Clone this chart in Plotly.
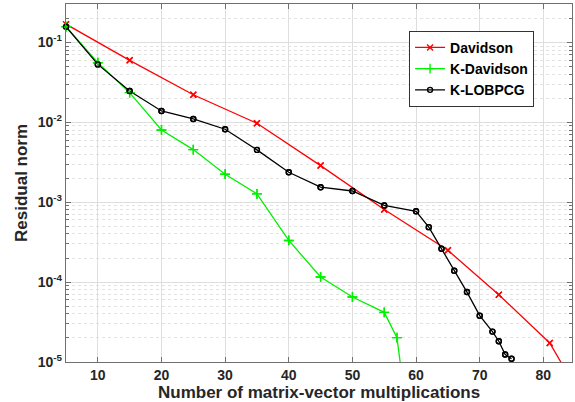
import plotly.graph_objects as go

# ---- data ----
dav_x = [5, 15, 25, 35, 45, 55, 65, 73, 81, 89]
dav_y = [0.169, 0.0596, 0.0221, 0.0097, 0.00287, 8.1e-4, 2.5e-4, 6.96e-5, 1.73e-5, 1.4e-6]

kdav_x = [5, 10, 15, 20, 25, 30, 35, 40, 45, 50, 55, 57, 59]
kdav_y = [0.157, 0.0556, 0.0235, 0.00801, 0.00455, 0.00224, 0.00127, 3.32e-4,
          1.16e-4, 6.5e-5, 4.18e-5, 2.02e-5, 1.2e-6]

klob_x = [5, 10, 15, 20, 25, 30, 35, 40, 45, 50, 55, 60, 62, 64, 66, 68, 70, 72, 73, 74, 75]
klob_y = [0.157, 0.053, 0.0246, 0.01384, 0.011, 0.00818, 0.00451, 0.00237, 0.00154,
          0.00138, 9.1e-4, 7.7e-4, 4.87e-4, 2.61e-4, 1.39e-4, 7.5e-5, 3.8e-5,
          2.4e-5, 1.82e-5, 1.24e-5, 1.10e-5]

x_ticks = [10, 20, 30, 40, 50, 60, 70, 80]
y_ticks = [1e-5, 1e-4, 1e-3, 1e-2, 1e-1]
y_ticktext = ["10<sup>-5</sup>", "10<sup>-4</sup>", "10<sup>-3</sup>",
              "10<sup>-2</sup>", "10<sup>-1</sup>"]
y_minor = [m * 10.0 ** e for e in range(-5, 0) for m in range(2, 10)]

series = [
    ("Davidson", dav_x, dav_y, "#ff0000", "x-thin", 6),
    ("K-Davidson", kdav_x, kdav_y, "#00f000", "cross-thin", 7),
    ("K-LOBPCG", klob_x, klob_y, "#000000", "circle-open", 5),
]

FONT = "Liberation Sans, Arial, Helvetica, sans-serif"

fig = go.Figure()
for name, xs, ys, col, sym, sz in series:
    fig.add_trace(go.Scatter(
        x=xs, y=ys, name=name, mode="lines+markers",
        line=dict(color=col, width=1.3),
        marker=dict(symbol=sym, size=sz, color=col, line=dict(color=col, width=1.4)),
        cliponaxis=True, showlegend=True,
    ))
for name, xs, ys, col, sym, sz in series:
    fig.add_trace(go.Scatter(
        x=xs, y=ys, name=name, mode="markers",
        marker=dict(symbol=sym, size=sz, color=col, line=dict(color=col, width=1.4)),
        cliponaxis=False, showlegend=False, hoverinfo="skip",
    ))

axis_common = dict(
    showline=True, linecolor="#707070", linewidth=1.3, mirror="ticks",
    ticks="inside", ticklen=5, tickcolor="#707070", tickwidth=1,
    showgrid=True, gridcolor="#dedede", gridwidth=1, zeroline=False,
    tickfont=dict(family=FONT, size=14, color="#262626", weight="bold"),
)

fig.update_xaxes(range=[5, 84.5], tickmode="array", tickvals=x_ticks, **axis_common)
fig.update_yaxes(type="log", range=[-5, -0.52], tickmode="array", tickvals=y_ticks,
                 ticktext=y_ticktext,
                 minor=dict(tickmode="array", tickvals=y_minor, ticks="inside", ticklen=3,
                            tickcolor="#707070", showgrid=True, gridcolor="#e2e2e2",
                            griddash="dot", gridwidth=1),
                 **axis_common)

fig.update_layout(
    width=575, height=402,
    margin=dict(l=66, r=3, t=4, b=40),
    paper_bgcolor="white", plot_bgcolor="white",
    font=dict(family=FONT, color="#262626"),
    legend=dict(x=0.678, y=0.925, xanchor="left", yanchor="top",
                bgcolor="white", bordercolor="#333333", borderwidth=1,
                font=dict(family=FONT, size=14, color="#000000", weight="bold"),
                tracegroupgap=0),
    annotations=[
        dict(text="Number of matrix-vector multiplications", xref="paper", yref="paper",
             x=0.5, y=0, xanchor="center", yanchor="middle", yshift=-30, showarrow=False,
             font=dict(family=FONT, size=17, color="#262626", weight="bold")),
        dict(text="Residual norm", xref="paper", yref="paper",
             x=0, y=0.5, xanchor="center", yanchor="middle", xshift=-45, textangle=-90,
             showarrow=False,
             font=dict(family=FONT, size=17, color="#262626", weight="bold")),
    ],
)

fig.write_html("out.html", config={"displayModeBar": False},
               post_script="document.body.style.margin='0';")
